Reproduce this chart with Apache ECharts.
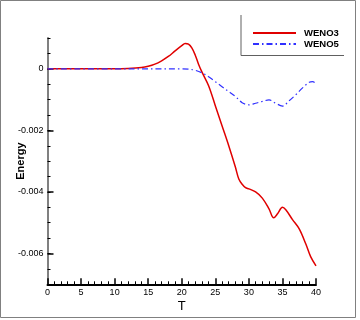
<!DOCTYPE html>
<html><head><meta charset="utf-8">
<script src="https://cdn.jsdelivr.net/npm/echarts@6/dist/echarts.min.js"></script>
<style>html,body{margin:0;padding:0;background:#fff}#c{width:360px;height:320px}</style>
</head><body><div id="c"></div>
<script>
const seriesNames = ['WENO3', 'WENO5'];
const weno3T = [0, 5, 10, 12, 14, 15, 16, 17, 18, 19, 20, 20.5, 21, 21.5, 22, 22.5, 23, 24, 25, 26, 27, 28, 28.5, 29, 29.5, 30, 31, 32, 33, 33.7, 34.3, 35, 35.5, 36.5, 37.5, 38.5, 39.2, 40];
const weno3E = [0, 0, 0, 0.00001, 0.00004, 0.00008, 0.00015, 0.00026, 0.0004, 0.00058, 0.00075, 0.00082, 0.0008, 0.00068, 0.00045, 0.00015, -0.0001, -0.00055, -0.0012, -0.00185, -0.0025, -0.0032, -0.00358, -0.00375, -0.00386, -0.0039, -0.004, -0.0042, -0.00455, -0.00484, -0.0047, -0.0045, -0.00458, -0.0049, -0.0052, -0.0057, -0.0061, -0.0064];
const weno5T = [0, 10, 20, 21, 22, 23, 24, 25, 26, 27, 28, 29, 30, 31, 32, 33, 34, 35, 36, 37, 38, 39, 39.5, 40];
const weno5E = [0, 0, 0, -0.00001, -0.00005, -0.00013, -0.00026, -0.00042, -0.00058, -0.00074, -0.0009, -0.0011, -0.00117, -0.00112, -0.00106, -0.00101, -0.00112, -0.00121, -0.00104, -0.00084, -0.00062, -0.00044, -0.00042, -0.00048];
const yTickLabels = [-0.006, -0.004, -0.002, 0];
const xTicks = {min: 0, max: 40, interval: 5};

const font = 'Liberation Sans, Arial, Helvetica, sans-serif';
const chart = echarts.init(document.getElementById('c'), null, {renderer: 'canvas'});
const zip = (a, b) => a.map((v, i) => [v, b[i]]);
chart.setOption({
  animation: false,
  backgroundColor: '#fff',
  grid: {left: 47.5, right: 44, top: 38, bottom: 35.7},
  legend: {
    orient: 'vertical', left: 247, top: 23,
    itemWidth: 43, itemHeight: 10, itemGap: 1,
    data: seriesNames,
    itemStyle: {opacity: 0},
    textStyle: {fontFamily: font, fontWeight: 'bold', fontSize: 9.5, color: '#000', padding: [0, 0, 0, 3]}
  },
  xAxis: {
    type: 'value', min: xTicks.min, max: xTicks.max, interval: xTicks.interval,
    axisLine: {onZero: false, lineStyle: {color: '#000', width: 2}},
    axisTick: {inside: true, length: 6, lineStyle: {color: '#000', width: 1.5}},
    minorTick: {show: true, splitNumber: 5, length: 3, lineStyle: {color: '#000', width: 1}},
    splitLine: {show: false},
    axisLabel: {fontFamily: font, fontSize: 9, color: '#000', margin: 4},
    name: 'T', nameLocation: 'middle', nameGap: 16, nameMoveOverlap: false,
    nameTextStyle: {fontFamily: font, fontSize: 13, color: '#000'}
  },
  yAxis: [{
    type: 'value', min: -0.007, max: 0.001,
    axisLine: {onZero: false, lineStyle: {color: '#808080', width: 2}},
    axisTick: {inside: true, length: 6, customValues: yTickLabels, lineStyle: {color: '#000', width: 1.5}},
    splitLine: {show: false},
    axisLabel: {customValues: yTickLabels, fontFamily: font, fontSize: 9, color: '#000', margin: 4,
      formatter: v => (Math.abs(v) < 1e-12 ? '0' : v.toFixed(3))},
    name: 'Energy', nameLocation: 'middle', nameGap: 21, nameMoveOverlap: false,
    nameTextStyle: {fontFamily: font, fontSize: 11, fontWeight: 'bold', color: '#000'}
  }, {
    type: 'value', min: -0.007, max: 0.001, interval: 0.0005, position: 'left',
    axisLine: {show: false, onZero: false},
    axisTick: {inside: true, length: 3, lineStyle: {color: '#000', width: 1}},
    axisLabel: {show: false},
    splitLine: {show: false}
  }],
  series: [{
    name: seriesNames[0], type: 'line', data: zip(weno3T, weno3E), yAxisIndex: 0,
    showSymbol: false, symbol: 'none', smooth: 0.35,
    lineStyle: {color: '#e00000', width: 1.5}, itemStyle: {color: '#e00000'}
  }, {
    name: seriesNames[1], type: 'line', data: zip(weno5T, weno5E), yAxisIndex: 0,
    showSymbol: false, symbol: 'none', smooth: 0.35,
    lineStyle: {color: '#3030ff', width: 1.2, type: [6, 3, 1.5, 3]}, itemStyle: {color: '#3030ff'}
  }],
  graphic: [
    {type: 'rect', shape: {x: 0.5, y: 0.5, width: 355, height: 317}, style: {fill: 'none', stroke: '#808080', lineWidth: 1}, silent: true},
    {type: 'polyline', shape: {points: [[241, 15], [241, 55.5], [344, 55.5]]}, style: {fill: 'none', stroke: '#606060', lineWidth: 1}, silent: true}
  ]
});
</script></body></html>
